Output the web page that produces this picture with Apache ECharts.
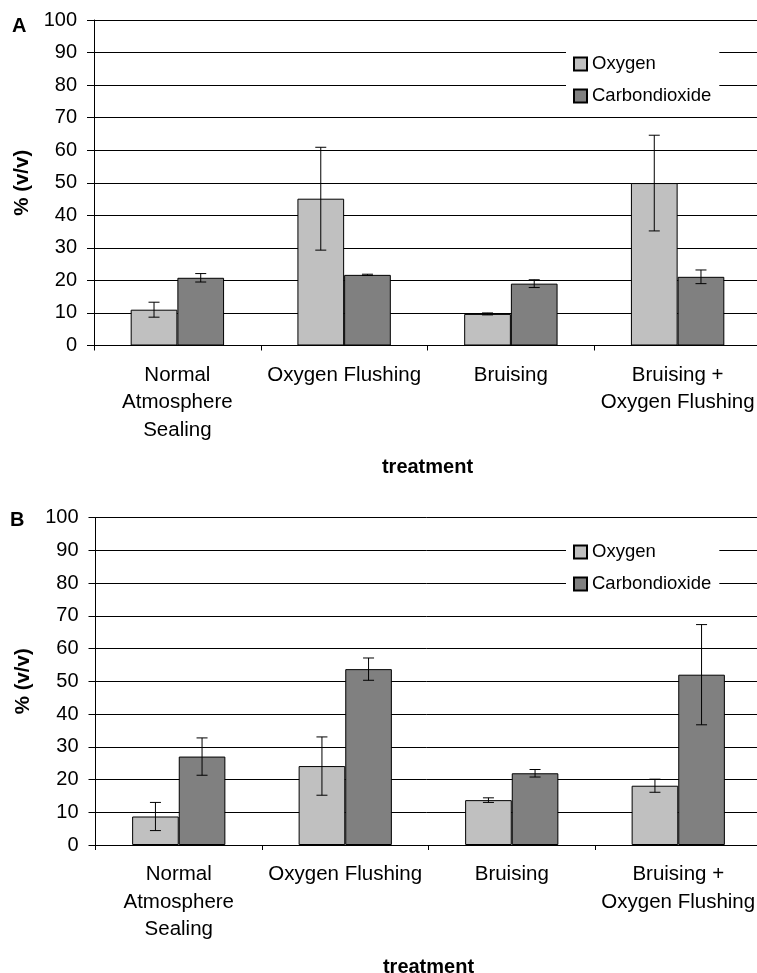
<!DOCTYPE html>
<html>
<head>
<meta charset="utf-8">
<script src="https://cdn.jsdelivr.net/npm/echarts@6/dist/echarts.min.js"></script>
<style>
html,body{margin:0;padding:0;background:#fff;}
#chart{width:757px;height:973px;}
</style>
</head>
<body>
<div id="chart"></div>
<script>
// ---- data ----
const categories = ['Normal\nAtmosphere\nSealing', 'Oxygen Flushing', 'Bruising', 'Bruising +\nOxygen Flushing'];
const seriesNames = ['Oxygen', 'Carbondioxide'];
const yTicks = [0, 10, 20, 30, 40, 50, 60, 70, 80, 90, 100];

// Panel A
const oxygenA = [11.0, 45.1, 9.7, 49.9];
const oxygenErrA = [2.3, 15.8, 0.3, 14.7];
const co2A = [20.8, 21.7, 19.0, 21.1];
const co2ErrA = [1.3, 0.2, 1.2, 2.1];

// Panel B
const oxygenB = [8.7, 24.1, 13.7, 18.1];
const oxygenErrB = [4.3, 8.9, 0.7, 2.0];
const co2B = [27.0, 53.7, 21.9, 52.0];
const co2ErrB = [5.7, 3.4, 1.15, 15.3];

// ---- styling ----
const FONT = "'Liberation Sans', Arial, Helvetica, sans-serif";
const COLOR_O = '#c0c0c0';
const COLOR_C = '#808080';
const GAP = 0.44;

const chart = echarts.init(document.getElementById('chart'), null, {renderer: 'canvas'});

function errRender(side) {
  return function (params, api) {
    const i = api.value(0), v = api.value(1), e = api.value(2);
    const band = api.size([1, 0])[0];
    const c = api.coord([i, v]);
    const x = c[0] + side * band * (1 - GAP) / 4;
    const yt = api.coord([i, v + e])[1];
    const yb = api.coord([i, v - e])[1];
    const st = {stroke: '#000', lineWidth: 1};
    const hw = 5.5;
    return {type: 'group', children: [
      {type: 'line', shape: {x1: x, y1: yt, x2: x, y2: yb}, style: st},
      {type: 'line', shape: {x1: x - hw, y1: yt, x2: x + hw, y2: yt}, style: st},
      {type: 'line', shape: {x1: x - hw, y1: yb, x2: x + hw, y2: yb}, style: st}
    ]};
  };
}

function errData(vals, errs) { return vals.map((v, i) => [i, v, errs[i]]); }

function xAxis(gi) {
  return {
    type: 'category', gridIndex: gi, data: categories, boundaryGap: true,
    axisLine: {show: true, lineStyle: {color: '#000', width: 1}},
    axisTick: {show: true, alignWithLabel: false, length: 5, lineStyle: {color: '#000'}},
    axisLabel: {color: '#000', fontFamily: FONT, fontSize: 20.5, lineHeight: 27.5, margin: 16, interval: 0},
    name: 'treatment', nameLocation: 'middle', nameGap: 112,
    nameTextStyle: {color: '#000', fontFamily: FONT, fontSize: 20, fontWeight: 'bold'},
    splitLine: {show: false}
  };
}
function yAxis(gi) {
  return {
    type: 'value', gridIndex: gi, min: yTicks[0], max: yTicks[yTicks.length - 1], interval: 10,
    axisLine: {show: true, lineStyle: {color: '#000', width: 1}},
    axisTick: {show: true, length: 7, lineStyle: {color: '#000'}},
    axisLabel: {color: '#000', fontFamily: FONT, fontSize: 20, margin: 17},
    splitLine: {show: true, lineStyle: {color: '#000', width: 1}},
    name: '% (v/v)', nameLocation: 'middle', nameGap: 61, nameRotate: 90,
    nameTextStyle: {color: '#000', fontFamily: FONT, fontSize: 20.5, fontWeight: 'bold'}
  };
}
function bar(name, gi, data, color) {
  return {
    type: 'bar', name: name, xAxisIndex: gi, yAxisIndex: gi, data: data,
    barCategoryGap: (GAP * 100) + '%', barGap: '0%',
    itemStyle: {color: color, borderColor: '#000', borderWidth: 1},
    emphasis: {disabled: true}, animation: false, z: 2
  };
}
function errSeries(gi, vals, errs, side) {
  return {
    type: 'custom', name: 'err', xAxisIndex: gi, yAxisIndex: gi,
    data: errData(vals, errs), renderItem: errRender(side),
    encode: {x: 0, y: 1}, z: 5, animation: false, silent: true
  };
}
function legend(top) {
  return {
    data: seriesNames.map(n => ({name: n, icon: 'rect'})), orient: 'vertical', left: 566, top: top,
    backgroundColor: '#fff', padding: [8, 8, 8, 7], itemGap: 12,
    itemWidth: 13, itemHeight: 13, selectedMode: false,
    textStyle: {color: '#000', fontFamily: FONT, fontSize: 18.5, lineHeight: 20}
  };
}

const option = {
  backgroundColor: '#fff',
  animation: false,
  title: [
    {text: 'A', left: 7, top: 11, textStyle: {fontFamily: FONT, fontSize: 20, fontWeight: 'bold', color: '#000'}},
    {text: 'B', left: 5, top: 505, textStyle: {fontFamily: FONT, fontSize: 20, fontWeight: 'bold', color: '#000'}}
  ],
  legend: [legend(46), legend(534)],
  grid: [
    {left: 94, top: 20, width: 667, height: 325.5, outerBoundsMode: 'none', containLabel: false},
    {left: 95.5, top: 517.5, width: 666, height: 327.5, outerBoundsMode: 'none', containLabel: false}
  ],
  xAxis: [xAxis(0), xAxis(1)],
  yAxis: [yAxis(0), yAxis(1)],
  series: [
    bar(seriesNames[0], 0, oxygenA, COLOR_O),
    bar(seriesNames[1], 0, co2A, COLOR_C),
    bar(seriesNames[0], 1, oxygenB, COLOR_O),
    bar(seriesNames[1], 1, co2B, COLOR_C),
    errSeries(0, oxygenA, oxygenErrA, -1),
    errSeries(0, co2A, co2ErrA, 1),
    errSeries(1, oxygenB, oxygenErrB, -1),
    errSeries(1, co2B, co2ErrB, 1)
  ]
};
chart.setOption(option);
</script>
</body>
</html>
